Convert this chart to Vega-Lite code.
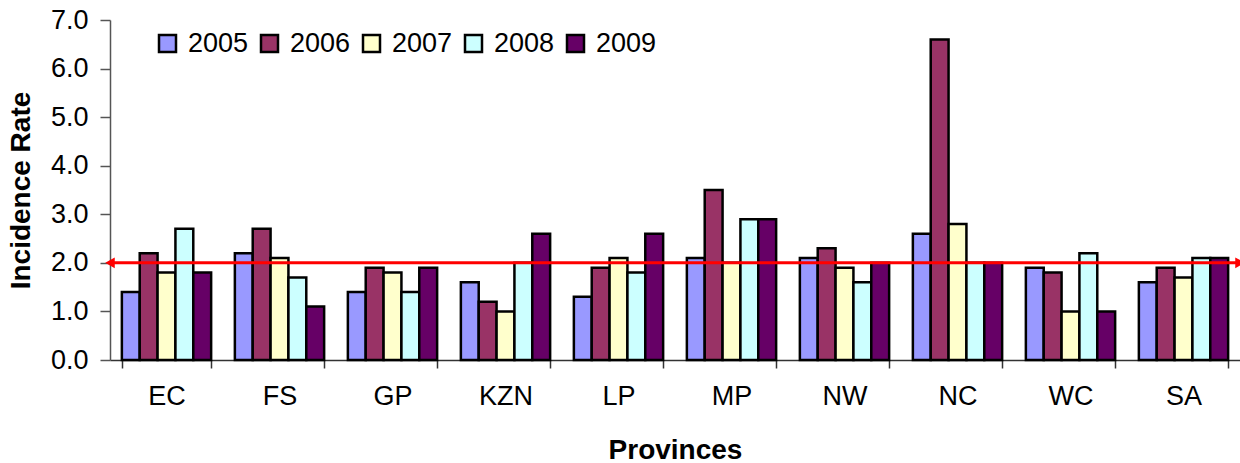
{
  "$schema": "https://vega.github.io/schema/vega-lite/v6.json",
  "width": 1130,
  "height": 340,
  "autosize": {"type": "none"},
  "padding": {"left": 110, "top": 20, "right": 0, "bottom": 103},
  "background": "white",
  "config": {
    "font": "Liberation Sans",
    "view": {"stroke": null},
    "axis": {"grid": false, "labelColor": "black", "titleColor": "black"}
  },
  "datasets": {
    "rates": [
      {"province": "EC", "year": "2005", "rate": 1.4},
      {"province": "EC", "year": "2006", "rate": 2.2},
      {"province": "EC", "year": "2007", "rate": 1.8},
      {"province": "EC", "year": "2008", "rate": 2.7},
      {"province": "EC", "year": "2009", "rate": 1.8},
      {"province": "FS", "year": "2005", "rate": 2.2},
      {"province": "FS", "year": "2006", "rate": 2.7},
      {"province": "FS", "year": "2007", "rate": 2.1},
      {"province": "FS", "year": "2008", "rate": 1.7},
      {"province": "FS", "year": "2009", "rate": 1.1},
      {"province": "GP", "year": "2005", "rate": 1.4},
      {"province": "GP", "year": "2006", "rate": 1.9},
      {"province": "GP", "year": "2007", "rate": 1.8},
      {"province": "GP", "year": "2008", "rate": 1.4},
      {"province": "GP", "year": "2009", "rate": 1.9},
      {"province": "KZN", "year": "2005", "rate": 1.6},
      {"province": "KZN", "year": "2006", "rate": 1.2},
      {"province": "KZN", "year": "2007", "rate": 1.0},
      {"province": "KZN", "year": "2008", "rate": 2.0},
      {"province": "KZN", "year": "2009", "rate": 2.6},
      {"province": "LP", "year": "2005", "rate": 1.3},
      {"province": "LP", "year": "2006", "rate": 1.9},
      {"province": "LP", "year": "2007", "rate": 2.1},
      {"province": "LP", "year": "2008", "rate": 1.8},
      {"province": "LP", "year": "2009", "rate": 2.6},
      {"province": "MP", "year": "2005", "rate": 2.1},
      {"province": "MP", "year": "2006", "rate": 3.5},
      {"province": "MP", "year": "2007", "rate": 2.0},
      {"province": "MP", "year": "2008", "rate": 2.9},
      {"province": "MP", "year": "2009", "rate": 2.9},
      {"province": "NW", "year": "2005", "rate": 2.1},
      {"province": "NW", "year": "2006", "rate": 2.3},
      {"province": "NW", "year": "2007", "rate": 1.9},
      {"province": "NW", "year": "2008", "rate": 1.6},
      {"province": "NW", "year": "2009", "rate": 2.0},
      {"province": "NC", "year": "2005", "rate": 2.6},
      {"province": "NC", "year": "2006", "rate": 6.6},
      {"province": "NC", "year": "2007", "rate": 2.8},
      {"province": "NC", "year": "2008", "rate": 2.0},
      {"province": "NC", "year": "2009", "rate": 2.0},
      {"province": "WC", "year": "2005", "rate": 1.9},
      {"province": "WC", "year": "2006", "rate": 1.8},
      {"province": "WC", "year": "2007", "rate": 1.0},
      {"province": "WC", "year": "2008", "rate": 2.2},
      {"province": "WC", "year": "2009", "rate": 1.0},
      {"province": "SA", "year": "2005", "rate": 1.6},
      {"province": "SA", "year": "2006", "rate": 1.9},
      {"province": "SA", "year": "2007", "rate": 1.7},
      {"province": "SA", "year": "2008", "rate": 2.1},
      {"province": "SA", "year": "2009", "rate": 2.1}
    ],
    "refline": [{"start": 0, "end": 1, "rate": 2}],
    "arrows": [
      {"pos": 0, "rate": 2, "shape": "triangle-left"},
      {"pos": 1, "rate": 2, "shape": "triangle-right"}
    ]
  },
  "resolve": {"scale": {"x": "independent"}, "axis": {"x": "independent"}},
  "layer": [
    {
      "data": {"name": "rates"},
      "mark": {"type": "bar", "stroke": "black", "strokeWidth": 2.5, "fillOpacity": 1},
      "encoding": {
        "x": {
          "field": "province",
          "type": "nominal",
          "sort": ["EC", "FS", "GP", "KZN", "LP", "MP", "NW", "NC", "WC", "SA"],
          "scale": {"paddingInner": 0.21, "paddingOuter": 0.105},
          "axis": {
            "title": "Provinces",
            "titleFontSize": 28,
            "titleFontWeight": "bold",
            "titlePadding": 27,
            "labelFontSize": 27,
            "labelAngle": 0,
            "labelPadding": 15,
            "tickBand": "extent",
            "tickSize": 8,
            "tickColor": "#333333",
            "domainColor": "#333333",
            "domainWidth": 1.5,
            "tickWidth": 1.5
          }
        },
        "xOffset": {
          "field": "year",
          "type": "nominal",
          "scale": {"paddingInner": 0, "paddingOuter": 0}
        },
        "y": {
          "field": "rate",
          "type": "quantitative",
          "title": "Incidence Rate",
          "scale": {"domain": [0, 7], "nice": false},
          "axis": {
            "values": [0, 1, 2, 3, 4, 5, 6, 7],
            "format": ".1f",
            "labelFontSize": 27,
            "labelPadding": 12,
            "tickSize": 10,
            "tickColor": "#555555",
            "domainColor": "#555555",
            "domainWidth": 1.5,
            "tickWidth": 1.5,
            "titleFontSize": 28,
            "titleFontWeight": "bold",
            "titlePadding": 15
          }
        },
        "fill": {
          "field": "year",
          "type": "nominal",
          "scale": {
            "domain": ["2005", "2006", "2007", "2008", "2009"],
            "range": ["#9999FF", "#993366", "#FFFFCC", "#CCFFFF", "#660066"]
          },
          "legend": {
            "title": null,
            "orient": "none",
            "legendX": 44,
            "legendY": 10,
            "direction": "horizontal",
            "columns": 5,
            "padding": 0,
            "symbolType": "square",
            "symbolSize": 289,
            "symbolStrokeColor": "black",
            "symbolStrokeWidth": 2.5,
            "symbolFillOpacity": 1,
            "labelFontSize": 27,
            "labelColor": "black",
            "labelOffset": 7,
            "columnPadding": 7
          }
        }
      }
    },
    {
      "data": {"name": "refline"},
      "mark": {"type": "rule", "color": "#FF0000", "strokeWidth": 3},
      "encoding": {
        "x": {"field": "start", "type": "quantitative", "scale": {"domain": [0, 1], "nice": false}, "axis": null},
        "x2": {"field": "end"},
        "y": {"field": "rate", "type": "quantitative", "title": "Incidence Rate"}
      }
    },
    {
      "data": {"name": "arrows"},
      "mark": {"type": "point", "filled": true, "color": "#FF0000", "size": 120, "opacity": 1},
      "encoding": {
        "x": {"field": "pos", "type": "quantitative", "scale": {"domain": [0, 1], "nice": false}, "axis": null},
        "y": {"field": "rate", "type": "quantitative", "title": "Incidence Rate"},
        "shape": {"field": "shape", "type": "nominal", "scale": null, "legend": null}
      }
    }
  ]
}
